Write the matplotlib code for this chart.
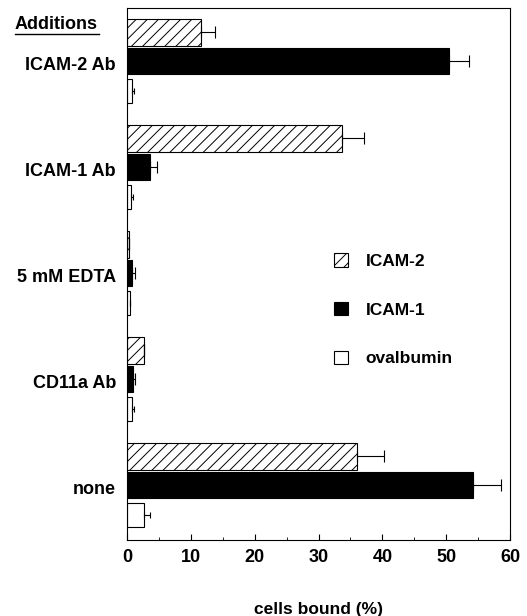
import matplotlib
matplotlib.use('Agg')
import matplotlib.pyplot as plt
import numpy as np
from matplotlib.lines import Line2D

categories = ['ICAM-2 Ab', 'ICAM-1 Ab', '5 mM EDTA', 'CD11a Ab', 'none']
icam2 = [11.6, 33.7, 0.3, 2.7, 36.0]
icam2_err = [2.2, 3.4, 0.0, 0.0, 4.3]
icam1 = [50.5, 3.6, 0.8, 1.0, 54.2]
icam1_err = [3.1, 1.1, 0.4, 0.3, 4.4]
ovalbumin = [0.8, 0.6, 0.5, 0.8, 2.7]
ovalbumin_err = [0.3, 0.3, 0.0, 0.3, 0.9]
xticks = [0, 10, 20, 30, 40, 50, 60]

plt.rcParams['font.family'] = ['Liberation Sans', 'DejaVu Sans']
plt.rcParams['hatch.linewidth'] = 0.7

fig = plt.figure(figsize=(5.27, 6.16), dpi=100)
ax = fig.add_axes([0.241, 0.123, 0.727, 0.864])

y = np.arange(len(categories))
h = 0.25
ekw = dict(elinewidth=0.8, capthick=0.8, ecolor='black')

b2 = ax.barh(y - 0.29, icam2, height=h, color='white', edgecolor='black',
             hatch='///', linewidth=0.8, xerr=[np.zeros(5), icam2_err],
             capsize=4, error_kw=ekw, label='ICAM-2')
b1 = ax.barh(y - 0.02, icam1, height=h, color='black', edgecolor='black',
             linewidth=0.8, xerr=[np.zeros(5), icam1_err],
             capsize=4, error_kw=ekw, label='ICAM-1')
b0 = ax.barh(y + 0.26, ovalbumin, height=h * 0.9, color='white', edgecolor='black',
             linewidth=0.8, xerr=[np.zeros(5), ovalbumin_err],
             capsize=2, error_kw=ekw, label='ovalbumin')

ax.set_xlim(0, 60)
ax.set_ylim(4.5, -0.52)
ax.set_xticks(xticks)
ax.set_xticklabels([str(t) for t in xticks], fontsize=13, fontweight='bold')
ax.set_xticks(np.arange(5, 60, 10), minor=True)
ax.tick_params(axis='x', direction='in', length=4, width=0.8, pad=6)
ax.tick_params(axis='x', which='minor', direction='in', length=2, width=0.6)
ax.set_yticks(y)
ax.set_yticklabels(categories, fontsize=13, fontweight='bold')
ax.tick_params(axis='y', length=0, pad=8)
for s in ax.spines.values():
    s.set_linewidth(0.8)

ax.set_xlabel('cells bound (%)', fontsize=12.5, fontweight='bold', labelpad=26)

leg = ax.legend(handles=[b2, b1, b0], loc='center left',
                bbox_to_anchor=(0.5, 0.433), frameon=False,
                fontsize=12.5, labelspacing=1.9, handlelength=0.8,
                handleheight=0.8, handletextpad=1.0)
for t in leg.get_texts():
    t.set_fontweight('bold')

fig.text(0.028, 0.953, 'Additions', fontsize=13, fontweight='bold',
         ha='left', va='baseline')
fig.add_artist(Line2D([0.028, 0.188], [0.944, 0.944], color='black', lw=1))

plt.savefig('out.png', dpi=100)
